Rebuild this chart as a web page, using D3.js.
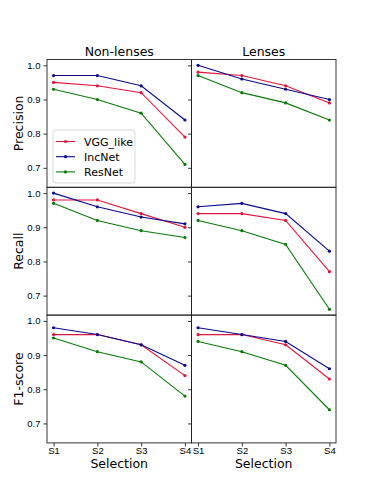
<!DOCTYPE html>
<html>
<head>
<meta charset="utf-8">
<script src="https://cdn.jsdelivr.net/npm/d3@7"></script>
<style>
  body { margin: 0; background: #ffffff; }
  svg { display: block; font-family: 'DejaVu Sans', sans-serif; }
</style>
</head>
<body>
<svg id="chart" width="374" height="498"></svg>
<script>
var selections = ['S1', 'S2', 'S3', 'S4'];
var columns = ['Non-lenses', 'Lenses'];
var metrics = ['Precision', 'Recall', 'F1-score'];
var models = ['VGG_like', 'IncNet', 'ResNet'];
var modelColors = ['#e0163f', '#0a0a8c', '#0a7a0a'];
var yTicks = [0.7, 0.8, 0.9, 1.0];

// one array per metric/column, rows = models, values for S1..S4
var precisionNonLenses = [[0.95, 0.94, 0.92, 0.79], [0.97, 0.97, 0.94, 0.84], [0.93, 0.90, 0.86, 0.71]];
var precisionLenses    = [[0.98, 0.97, 0.94, 0.89], [1.00, 0.96, 0.93, 0.90], [0.97, 0.92, 0.89, 0.84]];
var recallNonLenses    = [[0.98, 0.98, 0.94, 0.90], [1.00, 0.96, 0.93, 0.91], [0.97, 0.92, 0.89, 0.87]];
var recallLenses       = [[0.94, 0.94, 0.92, 0.77], [0.96, 0.97, 0.94, 0.83], [0.92, 0.89, 0.85, 0.66]];
var f1NonLenses        = [[0.96, 0.96, 0.93, 0.84], [0.98, 0.96, 0.93, 0.87], [0.95, 0.91, 0.88, 0.78]];
var f1Lenses           = [[0.96, 0.96, 0.93, 0.83], [0.98, 0.96, 0.94, 0.86], [0.94, 0.91, 0.87, 0.74]];

var values = [
  [precisionNonLenses, precisionLenses],
  [recallNonLenses, recallLenses],
  [f1NonLenses, f1Lenses]
];

var svg = d3.select('#chart');

var left = 47, panelW = 144.5;
var top0 = 59.5, panelH = 127.8;

// shared y limits, 5% margin like matplotlib
var allVals = [];
values.forEach(function(row) { row.forEach(function(col) { col.forEach(function(s) { allVals = allVals.concat(s); }); }); });
var yMin = d3.min(allVals), yMax = d3.max(allVals);
var pad = (yMax - yMin) * 0.05;

var x = d3.scaleLinear().domain([-0.15, selections.length - 1 + 0.15]).range([0, panelW]);
var y = d3.scaleLinear().domain([yMin - pad, yMax + pad]).range([panelH, 0]);

metrics.forEach(function(metric, r) {
  columns.forEach(function(col, c) {
    var g = svg.append('g')
      .attr('transform', 'translate(' + (left + c * panelW) + ',' + (top0 + r * panelH) + ')');

    var yAxis = d3.axisLeft(y).tickValues(yTicks).tickSize(3.5).tickPadding(3)
      .tickFormat(c === 0 ? d3.format('.1f') : function() { return ''; });
    var ya = g.append('g').call(yAxis);
    ya.select('.domain').remove();
    ya.selectAll('line').attr('stroke', '#000').attr('stroke-width', 0.8);
    ya.selectAll('text').style('font-size', '9.5px').attr('fill', '#000');

    if (r === metrics.length - 1) {
      var xAxis = d3.axisBottom(x).tickValues(d3.range(selections.length)).tickSize(3.5).tickPadding(1)
        .tickFormat(function(d) { return selections[d]; });
      var xa = g.append('g').attr('transform', 'translate(0,' + panelH + ')').call(xAxis);
      xa.select('.domain').remove();
      xa.selectAll('line').attr('stroke', '#000').attr('stroke-width', 0.8);
      xa.selectAll('text').style('font-size', '9.5px').attr('fill', '#000');
    }

    var line = d3.line()
      .x(function(d, i) { return x(i); })
      .y(function(d) { return y(d); });

    values[r][c].forEach(function(series, m) {
      g.append('path')
        .datum(series)
        .attr('d', line)
        .attr('fill', 'none')
        .attr('stroke', modelColors[m])
        .attr('stroke-width', 1.1);
      g.selectAll('.pt' + m)
        .data(series)
        .enter().append('circle')
        .attr('class', 'pt' + m)
        .attr('cx', function(d, i) { return x(i); })
        .attr('cy', function(d) { return y(d); })
        .attr('r', 1.6)
        .attr('fill', modelColors[m]);
    });

    g.append('rect')
      .attr('width', panelW)
      .attr('height', panelH)
      .attr('fill', 'none')
      .attr('stroke', '#222')
      .attr('stroke-width', 0.9);

    if (r === 0) {
      g.append('text')
        .attr('x', panelW / 2)
        .attr('y', -4)
        .attr('text-anchor', 'middle')
        .style('font-size', '12.5px')
        .text(col);
    }
    if (c === 0) {
      g.append('text')
        .attr('transform', 'translate(-24,' + (panelH / 2) + ') rotate(-90)')
        .attr('text-anchor', 'middle')
        .style('font-size', '12.5px')
        .text(metric);
    }
    if (r === metrics.length - 1) {
      g.append('text')
        .attr('x', panelW / 2)
        .attr('y', panelH + 25.5)
        .attr('text-anchor', 'middle')
        .style('font-size', '12.5px')
        .text('Selection');
    }

    // legend sits in the first panel
    if (r === 0 && c === 0) {
      var lg = g.append('g').attr('transform', 'translate(6,' + (130 - top0) + ')');
      lg.append('rect')
        .attr('width', 82)
        .attr('height', 53)
        .attr('rx', 3)
        .attr('fill', '#fff')
        .attr('fill-opacity', 0.8)
        .attr('stroke', '#d0d0d0')
        .attr('stroke-width', 0.8);
      models.forEach(function(name, m) {
        var ly = 11.5 + m * 15.2;
        lg.append('line')
          .attr('x1', 3).attr('x2', 22)
          .attr('y1', ly).attr('y2', ly)
          .attr('stroke', modelColors[m])
          .attr('stroke-width', 1.1);
        lg.append('circle')
          .attr('cx', 12.5).attr('cy', ly).attr('r', 1.6)
          .attr('fill', modelColors[m]);
        lg.append('text')
          .attr('x', 31)
          .attr('y', ly + 4)
          .style('font-size', '11px')
          .text(name);
      });
    }
  });
});
</script>
</body>
</html>
